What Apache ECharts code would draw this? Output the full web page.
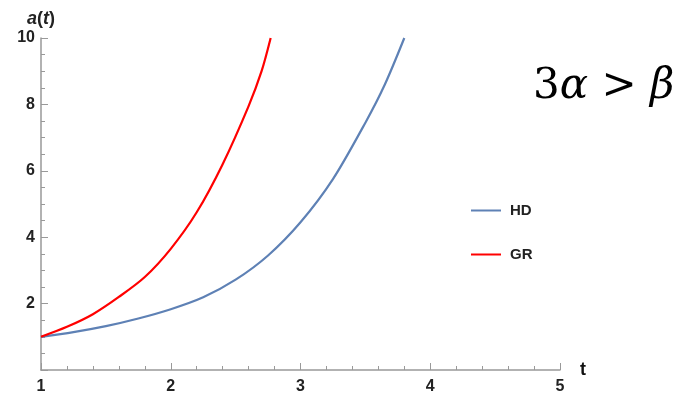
<!DOCTYPE html>
<html>
<head>
    <meta charset="utf-8">
    <title>a(t)</title>
    <script src="https://cdn.jsdelivr.net/npm/echarts@6/dist/echarts.min.js"></script>
</head>
<body style="margin:0;background:#fff;">
<div id="main" style="width: 689px;height:396px;"></div>
<script type="text/javascript">
    // values
    var hdT = [1.0, 1.25, 1.5, 1.75, 2.0, 2.25, 2.5, 2.75, 3.0, 3.25, 3.5, 3.65, 3.8];
    var hdA = [1.0, 1.14, 1.32, 1.55, 1.83, 2.19, 2.72, 3.45, 4.45, 5.75, 7.45, 8.6, 10.0];
    var grT = [1.0, 1.2, 1.4, 1.6, 1.8, 2.0, 2.2, 2.4, 2.6, 2.7, 2.77];
    var grA = [1.0, 1.30, 1.68, 2.2, 2.8, 3.65, 4.75, 6.2, 7.95, 9.0, 10.0];
    var xTicks = [1, 2, 3, 4, 5];
    var yTicks = [2, 4, 6, 8, 10];

    function pairs(xs, ys) {
        return xs.map(function (x, i) { return [x, ys[i]]; });
    }

    var chartDom = document.getElementById('main');
    var myChart = echarts.init(chartDom);

    var axisFont = {
        color: '#222',
        fontFamily: 'Liberation Sans',
        fontWeight: 'bold',
        fontSize: 16
    };

    var option = {
        animation: false,
        grid: {left: 41, right: 129, top: 38, bottom: 26},
        legend: {
            orient: 'vertical',
            left: 466,
            top: 198,
            itemWidth: 30,
            itemHeight: 2,
            itemGap: 29,
            icon: 'rect',
            textStyle: {
                color: '#222',
                fontFamily: 'Liberation Sans',
                fontWeight: 'bold',
                fontSize: 15,
                padding: [0, 0, 0, 4]
            },
            data: ['HD', 'GR']
        },
        graphic: [{
            type: 'text',
            left: 533,
            top: 66,
            style: {
                text: '{n|3}{i|α}{n| > }{i|β}',
                rich: {
                    n: {fontFamily: 'DejaVu Serif', fontSize: 42, fill: '#000'},
                    i: {fontFamily: 'DejaVu Serif', fontStyle: 'italic', fontSize: 42, fill: '#000'}
                }
            }
        }],
        xAxis: {
            type: 'value',
            min: 1,
            max: 5,
            interval: 1,
            name: 't',
            nameLocation: 'end',
            nameGap: 20,
            nameTextStyle: {color: '#111', fontFamily: 'Liberation Sans', fontWeight: 'bold', fontSize: 18},
            axisLine: {lineStyle: {color: '#999', width: 1.5}},
            axisTick: {inside: true, length: 7, lineStyle: {color: '#999'}},
            minorTick: {show: true, splitNumber: 5, length: 4, lineStyle: {color: '#999'}},
            splitLine: {show: false},
            axisLabel: Object.assign({margin: 9, formatter: function (v) {
                return xTicks.indexOf(v) >= 0 ? String(v) : '';
            }}, axisFont)
        },
        yAxis: {
            type: 'value',
            min: 0,
            max: 10,
            interval: 2,
            name: '{a|a}{p|(}{a|t}{p|)}',
            nameLocation: 'end',
            nameGap: 10,
            nameTextStyle: {
                align: 'center',
                rich: {
                    a: {fontFamily: 'Liberation Sans', fontStyle: 'italic', fontWeight: 'bold', fontSize: 18, color: '#222'},
                    p: {fontFamily: 'Liberation Sans', fontWeight: 'bold', fontSize: 18, color: '#222'}
                }
            },
            axisLine: {show: true, lineStyle: {color: '#999', width: 1.5}},
            axisTick: {show: true, inside: true, length: 7, lineStyle: {color: '#999'}},
            minorTick: {show: true, splitNumber: 4, length: 4, lineStyle: {color: '#999'}},
            splitLine: {show: false},
            axisLabel: Object.assign({margin: 6, formatter: function (v) {
                return yTicks.indexOf(v) >= 0 ? String(v) : '';
            }}, axisFont)
        },
        series: [
            {
                name: 'HD',
                type: 'line',
                smooth: 0.3,
                showSymbol: false,
                data: pairs(hdT, hdA),
                itemStyle: {color: '#5E81B5'},
                lineStyle: {color: '#5E81B5', width: 2.2}
            },
            {
                name: 'GR',
                type: 'line',
                smooth: 0.3,
                showSymbol: false,
                data: pairs(grT, grA),
                itemStyle: {color: '#FF0000'},
                lineStyle: {color: '#FF0000', width: 2.2}
            }
        ]
    };
    myChart.setOption(option);
</script>
</body>
</html>
